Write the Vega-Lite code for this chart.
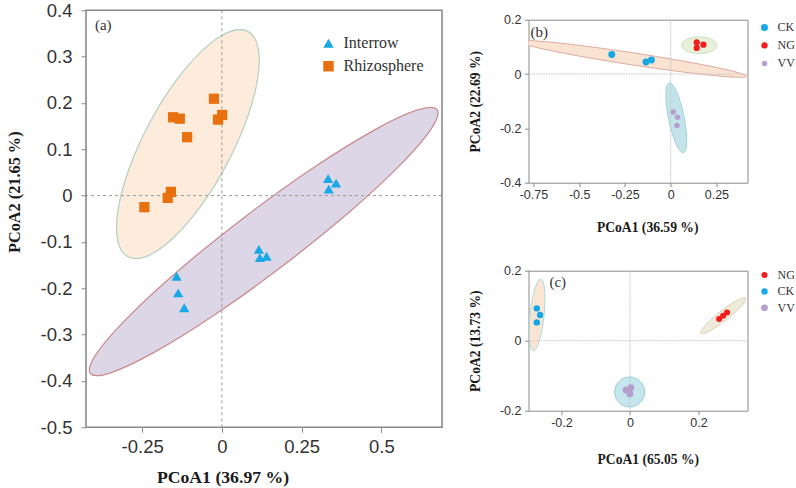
{
  "$schema": "https://vega.github.io/schema/vega-lite/v6.json",
  "background": "white",
  "padding": {"left": 5, "top": 0, "right": 0, "bottom": 0},
  "center": true,
  "spacing": 23.5,
  "resolve": {"scale": {"x": "independent", "y": "independent", "color": "independent", "shape": "independent", "size": "independent"}},
  "config": {
    "axis": {
      "domain": false, "grid": false, "tickColor": "#8a8a8a", "tickWidth": 1,
      "labelColor": "#333333", "labelFont": "Liberation Sans", "labelOverlap": false, "labelFlush": false,
      "titleFont": "Liberation Serif", "titleFontWeight": "bold", "titleColor": "#1a1a1a"
    },
    "legend": {"labelFont": "Liberation Serif", "labelColor": "#333333", "padding": 0}
  },
  "datasets": {
    "ptsA": [
      {"group": "Rhizosphere", "x": -0.025, "y": 0.209},
      {"group": "Rhizosphere", "x": 0.001, "y": 0.174},
      {"group": "Rhizosphere", "x": -0.012, "y": 0.164},
      {"group": "Rhizosphere", "x": -0.153, "y": 0.169},
      {"group": "Rhizosphere", "x": -0.132, "y": 0.166},
      {"group": "Rhizosphere", "x": -0.109, "y": 0.126},
      {"group": "Rhizosphere", "x": -0.160, "y": 0.008},
      {"group": "Rhizosphere", "x": -0.170, "y": -0.005},
      {"group": "Rhizosphere", "x": -0.243, "y": -0.025},
      {"group": "Interrow", "x": 0.333, "y": 0.037},
      {"group": "Interrow", "x": 0.358, "y": 0.027},
      {"group": "Interrow", "x": 0.335, "y": 0.014},
      {"group": "Interrow", "x": 0.116, "y": -0.116},
      {"group": "Interrow", "x": 0.119, "y": -0.134},
      {"group": "Interrow", "x": 0.140, "y": -0.131},
      {"group": "Interrow", "x": -0.142, "y": -0.174},
      {"group": "Interrow", "x": -0.137, "y": -0.210},
      {"group": "Interrow", "x": -0.118, "y": -0.242}
    ],
    "ellA": [
      {"g": "Rhizosphere", "i": 0, "x": 0.0815, "y": 0.3544},
      {"g": "Rhizosphere", "i": 1, "x": 0.0208, "y": 0.3529},
      {"g": "Rhizosphere", "i": 2, "x": -0.0593, "y": 0.3145},
      {"g": "Rhizosphere", "i": 3, "x": -0.1466, "y": 0.2452},
      {"g": "Rhizosphere", "i": 4, "x": -0.2277, "y": 0.1555},
      {"g": "Rhizosphere", "i": 5, "x": -0.2904, "y": 0.0590},
      {"g": "Rhizosphere", "i": 6, "x": -0.3251, "y": -0.0294},
      {"g": "Rhizosphere", "i": 7, "x": -0.3266, "y": -0.0965},
      {"g": "Rhizosphere", "i": 8, "x": -0.2945, "y": -0.1320},
      {"g": "Rhizosphere", "i": 9, "x": -0.2338, "y": -0.1305},
      {"g": "Rhizosphere", "i": 10, "x": -0.1537, "y": -0.0921},
      {"g": "Rhizosphere", "i": 11, "x": -0.0664, "y": -0.0228},
      {"g": "Rhizosphere", "i": 12, "x": 0.0147, "y": 0.0669},
      {"g": "Rhizosphere", "i": 13, "x": 0.0774, "y": 0.1634},
      {"g": "Rhizosphere", "i": 14, "x": 0.1121, "y": 0.2518},
      {"g": "Rhizosphere", "i": 15, "x": 0.1136, "y": 0.3189},
      {"g": "Interrow", "i": 0, "x": 0.6743, "y": 0.1856},
      {"g": "Interrow", "i": 1, "x": 0.6105, "y": 0.1842},
      {"g": "Interrow", "i": 2, "x": 0.4735, "y": 0.1398},
      {"g": "Interrow", "i": 3, "x": 0.2845, "y": 0.0590},
      {"g": "Interrow", "i": 4, "x": 0.0721, "y": -0.0460},
      {"g": "Interrow", "i": 5, "x": -0.1313, "y": -0.1590},
      {"g": "Interrow", "i": 6, "x": -0.2948, "y": -0.2629},
      {"g": "Interrow", "i": 7, "x": -0.3935, "y": -0.3418},
      {"g": "Interrow", "i": 8, "x": -0.4123, "y": -0.3838},
      {"g": "Interrow", "i": 9, "x": -0.3485, "y": -0.3824},
      {"g": "Interrow", "i": 10, "x": -0.2115, "y": -0.3380},
      {"g": "Interrow", "i": 11, "x": -0.0225, "y": -0.2572},
      {"g": "Interrow", "i": 12, "x": 0.1899, "y": -0.1522},
      {"g": "Interrow", "i": 13, "x": 0.3933, "y": -0.0392},
      {"g": "Interrow", "i": 14, "x": 0.5568, "y": 0.0647},
      {"g": "Interrow", "i": 15, "x": 0.6555, "y": 0.1436}
    ],
    "ptsB": [
      {"group": "CK", "x": -0.322, "y": 0.0716},
      {"group": "CK", "x": -0.135, "y": 0.0443},
      {"group": "CK", "x": -0.105, "y": 0.0517},
      {"group": "NG", "x": 0.1425, "y": 0.117},
      {"group": "NG", "x": 0.1425, "y": 0.096},
      {"group": "NG", "x": 0.179, "y": 0.108},
      {"group": "VV", "x": 0.0143, "y": -0.140},
      {"group": "VV", "x": 0.038, "y": -0.159},
      {"group": "VV", "x": 0.0345, "y": -0.189}
    ],
    "ellB": [
      {"g": "CK", "i": 0, "x": 0.4161, "y": -0.0084},
      {"g": "CK", "i": 1, "x": 0.3706, "y": 0.0049},
      {"g": "CK", "i": 2, "x": 0.2374, "y": 0.0259},
      {"g": "CK", "i": 3, "x": 0.0366, "y": 0.0514},
      {"g": "CK", "i": 4, "x": -0.2011, "y": 0.0776},
      {"g": "CK", "i": 5, "x": -0.4396, "y": 0.1004},
      {"g": "CK", "i": 6, "x": -0.6425, "y": 0.1165},
      {"g": "CK", "i": 7, "x": -0.7790, "y": 0.1233},
      {"g": "CK", "i": 8, "x": -0.8283, "y": 0.1198},
      {"g": "CK", "i": 9, "x": -0.7828, "y": 0.1065},
      {"g": "CK", "i": 10, "x": -0.6496, "y": 0.0855},
      {"g": "CK", "i": 11, "x": -0.4488, "y": 0.0600},
      {"g": "CK", "i": 12, "x": -0.2111, "y": 0.0338},
      {"g": "CK", "i": 13, "x": 0.0274, "y": 0.0110},
      {"g": "CK", "i": 14, "x": 0.2303, "y": -0.0051},
      {"g": "CK", "i": 15, "x": 0.3668, "y": -0.0119},
      {"g": "NG", "i": 0, "x": 0.2522, "y": 0.1059},
      {"g": "NG", "i": 1, "x": 0.2394, "y": 0.1212},
      {"g": "NG", "i": 2, "x": 0.2043, "y": 0.1324},
      {"g": "NG", "i": 3, "x": 0.1563, "y": 0.1365},
      {"g": "NG", "i": 4, "x": 0.1083, "y": 0.1324},
      {"g": "NG", "i": 5, "x": 0.0732, "y": 0.1212},
      {"g": "NG", "i": 6, "x": 0.0604, "y": 0.1059},
      {"g": "NG", "i": 7, "x": 0.0732, "y": 0.0906},
      {"g": "NG", "i": 8, "x": 0.1083, "y": 0.0794},
      {"g": "NG", "i": 9, "x": 0.1563, "y": 0.0753},
      {"g": "NG", "i": 10, "x": 0.2043, "y": 0.0794},
      {"g": "NG", "i": 11, "x": 0.2394, "y": 0.0906},
      {"g": "VV", "i": 0, "x": -0.0078, "y": -0.0325},
      {"g": "VV", "i": 1, "x": -0.0235, "y": -0.0526},
      {"g": "VV", "i": 2, "x": -0.0247, "y": -0.1016},
      {"g": "VV", "i": 3, "x": -0.0110, "y": -0.1666},
      {"g": "VV", "i": 4, "x": 0.0139, "y": -0.2300},
      {"g": "VV", "i": 5, "x": 0.0431, "y": -0.2750},
      {"g": "VV", "i": 6, "x": 0.0692, "y": -0.2893},
      {"g": "VV", "i": 7, "x": 0.0849, "y": -0.2692},
      {"g": "VV", "i": 8, "x": 0.0861, "y": -0.2202},
      {"g": "VV", "i": 9, "x": 0.0724, "y": -0.1552},
      {"g": "VV", "i": 10, "x": 0.0475, "y": -0.0918},
      {"g": "VV", "i": 11, "x": 0.0183, "y": -0.0468}
    ],
    "ptsC": [
      {"group": "NG", "x": 0.2601, "y": 0.0620},
      {"group": "NG", "x": 0.2718, "y": 0.0714},
      {"group": "NG", "x": 0.2834, "y": 0.0809},
      {"group": "CK", "x": -0.2718, "y": 0.0923},
      {"group": "CK", "x": -0.2622, "y": 0.0734},
      {"group": "CK", "x": -0.2718, "y": 0.0523},
      {"group": "VV", "x": -0.0117, "y": -0.1409},
      {"group": "VV", "x": 0.0029, "y": -0.1343},
      {"group": "VV", "x": 0.0, "y": -0.1523}
    ],
    "ellC": [
      {"g": "CK", "i": 0, "x": -0.2601, "y": 0.1760},
      {"g": "CK", "i": 1, "x": -0.2716, "y": 0.1633},
      {"g": "CK", "i": 2, "x": -0.2831, "y": 0.1267},
      {"g": "CK", "i": 3, "x": -0.2912, "y": 0.0758},
      {"g": "CK", "i": 4, "x": -0.2939, "y": 0.0243},
      {"g": "CK", "i": 5, "x": -0.2904, "y": -0.0139},
      {"g": "CK", "i": 6, "x": -0.2817, "y": -0.0286},
      {"g": "CK", "i": 7, "x": -0.2702, "y": -0.0159},
      {"g": "CK", "i": 8, "x": -0.2587, "y": 0.0207},
      {"g": "CK", "i": 9, "x": -0.2506, "y": 0.0716},
      {"g": "CK", "i": 10, "x": -0.2479, "y": 0.1231},
      {"g": "CK", "i": 11, "x": -0.2514, "y": 0.1613},
      {"g": "NG", "i": 0, "x": 0.3379, "y": 0.1219},
      {"g": "NG", "i": 1, "x": 0.3246, "y": 0.1207},
      {"g": "NG", "i": 2, "x": 0.2974, "y": 0.1064},
      {"g": "NG", "i": 3, "x": 0.2634, "y": 0.0826},
      {"g": "NG", "i": 4, "x": 0.2318, "y": 0.0558},
      {"g": "NG", "i": 5, "x": 0.2112, "y": 0.0333},
      {"g": "NG", "i": 6, "x": 0.2069, "y": 0.0209},
      {"g": "NG", "i": 7, "x": 0.2202, "y": 0.0221},
      {"g": "NG", "i": 8, "x": 0.2474, "y": 0.0364},
      {"g": "NG", "i": 9, "x": 0.2814, "y": 0.0602},
      {"g": "NG", "i": 10, "x": 0.3130, "y": 0.0870},
      {"g": "NG", "i": 11, "x": 0.3336, "y": 0.1095},
      {"g": "VV", "i": 0, "x": 0.0428, "y": -0.1466},
      {"g": "VV", "i": 1, "x": 0.0369, "y": -0.1252},
      {"g": "VV", "i": 2, "x": 0.0210, "y": -0.1094},
      {"g": "VV", "i": 3, "x": -0.0009, "y": -0.1037},
      {"g": "VV", "i": 4, "x": -0.0228, "y": -0.1094},
      {"g": "VV", "i": 5, "x": -0.0387, "y": -0.1252},
      {"g": "VV", "i": 6, "x": -0.0446, "y": -0.1466},
      {"g": "VV", "i": 7, "x": -0.0387, "y": -0.1680},
      {"g": "VV", "i": 8, "x": -0.0228, "y": -0.1838},
      {"g": "VV", "i": 9, "x": -0.0009, "y": -0.1895},
      {"g": "VV", "i": 10, "x": 0.0210, "y": -0.1838},
      {"g": "VV", "i": 11, "x": 0.0369, "y": -0.1680}
    ],
    "panelLabels": [
      {"panel": "a", "x": -0.398, "y": 0.369, "label": "(a)"},
      {"panel": "b", "x": -0.766, "y": 0.155, "label": "(b)"},
      {"panel": "c", "x": -0.235, "y": 0.169, "label": "(c)"}
    ]
  },
  "hconcat": [
    {
      "width": 356,
      "height": 417,
      "view": {"stroke": "#8a8a8a", "strokeWidth": 1.6},
      "layer": [
        {
          "data": {"name": "ellA"},
          "transform": [{"filter": "datum.g === 'Rhizosphere'"}],
          "mark": {"type": "line", "interpolate": "cardinal-closed", "fill": "#FDEBDB", "stroke": "#B7D2C0", "strokeWidth": 1.3, "clip": true},
          "encoding": {
            "x": {"field": "x", "type": "quantitative",
              "scale": {"domain": [-0.426, 0.69], "nice": false, "zero": false},
              "axis": {"title": "PCoA1 (36.97 %)", "values": [-0.25, 0, 0.25, 0.5],
                "labelExpr": "replace(format(datum.value, '~g'), '\u2212', '-')",
                "labelFontSize": 18.5, "tickSize": 5, "labelPadding": 5.5,
                "titleFontSize": 17.7, "titlePadding": 12, "titleX": 136.5}},
            "y": {"field": "y", "type": "quantitative",
              "scale": {"domain": [-0.5, 0.4], "nice": false, "zero": false},
              "axis": {"title": "PCoA2 (21.65 %)", "values": [-0.5, -0.4, -0.3, -0.2, -0.1, 0, 0.1, 0.2, 0.3, 0.4],
                "labelExpr": "replace(format(datum.value, '~g'), '\u2212', '-')",
                "labelFontSize": 18.5, "tickSize": 5, "labelPadding": 9,
                "titleFontSize": 16.3, "titlePadding": 18, "titleY": 181.5}},
            "order": {"field": "i", "type": "quantitative"}
          }
        },
        {
          "data": {"name": "ellA"},
          "transform": [{"filter": "datum.g === 'Interrow'"}],
          "mark": {"type": "line", "interpolate": "cardinal-closed", "fill": "#DDD6E7", "stroke": "#C98C8E", "strokeWidth": 1.3, "clip": true},
          "encoding": {
            "x": {"field": "x", "type": "quantitative"},
            "y": {"field": "y", "type": "quantitative"},
            "order": {"field": "i", "type": "quantitative"}
          }
        },
        {
          "data": {"values": [{}]},
          "mark": {"type": "rule", "color": "#9a9a9a", "strokeDash": [3, 3], "strokeWidth": 1},
          "encoding": {"x": {"datum": 0, "type": "quantitative"}}
        },
        {
          "data": {"values": [{}]},
          "mark": {"type": "rule", "color": "#9a9a9a", "strokeDash": [3, 3], "strokeWidth": 1},
          "encoding": {"y": {"datum": 0, "type": "quantitative"}}
        },
        {
          "data": {"name": "ptsA"},
          "mark": {"type": "point", "filled": true, "opacity": 1, "size": 105, "strokeWidth": 0},
          "encoding": {
            "x": {"field": "x", "type": "quantitative"},
            "y": {"field": "y", "type": "quantitative"},
            "shape": {"field": "group", "type": "nominal",
              "scale": {"domain": ["Interrow", "Rhizosphere"], "range": ["triangle-up", "square"]},
              "legend": {"title": null, "orient": "none", "legendX": 234.5, "legendY": 25, "padding": 0, "labelFontSize": 16, "symbolSize": 110, "rowPadding": 7, "labelOffset": 7, "symbolStrokeWidth": 0}},
            "color": {"field": "group", "type": "nominal",
              "scale": {"domain": ["Interrow", "Rhizosphere"], "range": ["#18A9E6", "#E8700F"]},
              "legend": {"title": null, "orient": "none", "legendX": 234.5, "legendY": 25, "padding": 0, "labelFontSize": 16, "symbolSize": 110, "rowPadding": 7, "labelOffset": 7, "symbolStrokeWidth": 0}}
          }
        },
        {
          "data": {"name": "panelLabels"},
          "transform": [{"filter": "datum.panel === 'a'"}],
          "mark": {"type": "text", "align": "left", "baseline": "middle", "font": "Liberation Serif", "fontSize": 15, "color": "#333333"},
          "encoding": {
            "x": {"field": "x", "type": "quantitative"},
            "y": {"field": "y", "type": "quantitative"},
            "text": {"field": "label"}
          }
        }
      ]
    },
    {
      "spacing": 29,
      "resolve": {"scale": {"x": "independent", "y": "independent", "color": "independent", "size": "independent"}},
      "vconcat": [
        {
          "width": 219,
          "height": 163,
          "view": {"stroke": "#8a8a8a", "strokeWidth": 1},
          "layer": [
            {
              "data": {"name": "ellB"},
              "transform": [{"filter": "datum.g === 'CK'"}],
              "mark": {"type": "line", "interpolate": "cardinal-closed", "fill": "#FBE3D1", "stroke": "#DDA9A2", "strokeWidth": 1, "clip": true},
              "encoding": {
                "x": {"field": "x", "type": "quantitative",
                  "scale": {"domain": [-0.777, 0.42], "nice": false, "zero": false},
                  "axis": {"title": "PCoA1 (36.59 %)", "values": [-0.75, -0.5, -0.25, 0, 0.25],
                    "labelExpr": "replace(format(datum.value, '~g'), '\u2212', '-')",
                    "labelFontSize": 12.5, "tickSize": 4, "labelPadding": 1.5,
                    "titleFontSize": 13.6, "titlePadding": 19.5, "titleX": 118.7}},
                "y": {"field": "y", "type": "quantitative",
                  "scale": {"domain": [-0.4, 0.2], "nice": false, "zero": false},
                  "axis": {"title": "PCoA2 (22.69 %)", "values": [-0.4, -0.3, -0.2, -0.1, 0, 0.1, 0.2],
                    "labelExpr": "replace(format(datum.value, '~g'), '\u2212', '-')",
                    "labelFontSize": 12.5, "tickSize": 4, "labelPadding": 3.5,
                    "titleFontSize": 13.6, "titlePadding": 16.5}},
                "order": {"field": "i", "type": "quantitative"}
              }
            },
            {
              "data": {"name": "ellB"},
              "transform": [{"filter": "datum.g === 'NG'"}],
              "mark": {"type": "line", "interpolate": "cardinal-closed", "fill": "#E8F0DC", "stroke": "#CCE0BC", "strokeWidth": 1, "clip": true},
              "encoding": {
                "x": {"field": "x", "type": "quantitative"},
                "y": {"field": "y", "type": "quantitative"},
                "order": {"field": "i", "type": "quantitative"}
              }
            },
            {
              "data": {"name": "ellB"},
              "transform": [{"filter": "datum.g === 'VV'"}],
              "mark": {"type": "line", "interpolate": "cardinal-closed", "fill": "#C2E4EA", "stroke": "#9ED2DA", "strokeWidth": 1, "clip": true},
              "encoding": {
                "x": {"field": "x", "type": "quantitative"},
                "y": {"field": "y", "type": "quantitative"},
                "order": {"field": "i", "type": "quantitative"}
              }
            },
            {
              "data": {"values": [{}]},
              "mark": {"type": "rule", "color": "#c4c4c4", "strokeDash": [1.5, 1], "strokeWidth": 1},
              "encoding": {"x": {"datum": 0, "type": "quantitative"}}
            },
            {
              "data": {"values": [{}]},
              "mark": {"type": "rule", "color": "#c4c4c4", "strokeDash": [1.5, 1], "strokeWidth": 1},
              "encoding": {"y": {"datum": 0, "type": "quantitative"}}
            },
            {
              "data": {"name": "ptsB"},
              "mark": {"type": "circle", "opacity": 1},
              "encoding": {
                "x": {"field": "x", "type": "quantitative"},
                "y": {"field": "y", "type": "quantitative"},
                "size": {"field": "group", "type": "nominal", "scale": {"domain": ["CK", "NG", "VV"], "range": [48, 30, 30]}, "legend": null},
                "color": {"field": "group", "type": "nominal",
                  "scale": {"domain": ["CK", "NG", "VV"], "range": ["#14A8E7", "#F51B1B", "#B49FCF"]},
                  "legend": {"title": null, "orient": "none", "legendX": 230, "legendY": 1.75, "padding": 0, "labelFontSize": 12, "symbolType": "circle", "symbolSize": 40, "rowPadding": 6, "labelOffset": 7, "symbolStrokeWidth": 0}}
              }
            },
            {
              "data": {"name": "panelLabels"},
              "transform": [{"filter": "datum.panel === 'b'"}],
              "mark": {"type": "text", "align": "left", "baseline": "middle", "font": "Liberation Serif", "fontSize": 15, "color": "#333333"},
              "encoding": {
                "x": {"field": "x", "type": "quantitative"},
                "y": {"field": "y", "type": "quantitative"},
                "text": {"field": "label"}
              }
            }
          ]
        },
        {
          "width": 219,
          "height": 140,
          "view": {"stroke": "#8a8a8a", "strokeWidth": 1},
          "layer": [
            {
              "data": {"name": "ellC"},
              "transform": [{"filter": "datum.g === 'CK'"}],
              "mark": {"type": "line", "interpolate": "cardinal-closed", "fill": "#FAE5D3", "stroke": "#A9DBE6", "strokeWidth": 1, "clip": true},
              "encoding": {
                "x": {"field": "x", "type": "quantitative",
                  "scale": {"domain": [-0.296, 0.343], "nice": false, "zero": false},
                  "axis": {"title": ["PCoA1 (65.05 %)", ""], "titleLineHeight": 11, "values": [-0.2, 0, 0.2],
                    "labelExpr": "replace(format(datum.value, '~g'), '\u2212', '-')",
                    "labelFontSize": 12.5, "tickSize": 4, "labelPadding": 1.5,
                    "titleFontSize": 13.6, "titlePadding": 23.5, "titleX": 119.3}},
                "y": {"field": "y", "type": "quantitative",
                  "scale": {"domain": [-0.2, 0.2], "nice": false, "zero": false},
                  "axis": {"title": "PCoA2 (13.73 %)", "values": [-0.2, -0.1, 0, 0.1, 0.2],
                    "labelExpr": "replace(format(datum.value, '~g'), '\u2212', '-')",
                    "labelFontSize": 12.5, "tickSize": 4, "labelPadding": 3.5,
                    "titleFontSize": 13.6, "titlePadding": 16.5}},
                "order": {"field": "i", "type": "quantitative"}
              }
            },
            {
              "data": {"name": "ellC"},
              "transform": [{"filter": "datum.g === 'NG'"}],
              "mark": {"type": "line", "interpolate": "cardinal-closed", "fill": "#EEEBDA", "stroke": "#D6D0B3", "strokeWidth": 1, "clip": true},
              "encoding": {
                "x": {"field": "x", "type": "quantitative"},
                "y": {"field": "y", "type": "quantitative"},
                "order": {"field": "i", "type": "quantitative"}
              }
            },
            {
              "data": {"name": "ellC"},
              "transform": [{"filter": "datum.g === 'VV'"}],
              "mark": {"type": "line", "interpolate": "cardinal-closed", "fill": "#C5E6EC", "stroke": "#98CFD9", "strokeWidth": 1, "clip": true},
              "encoding": {
                "x": {"field": "x", "type": "quantitative"},
                "y": {"field": "y", "type": "quantitative"},
                "order": {"field": "i", "type": "quantitative"}
              }
            },
            {
              "data": {"values": [{}]},
              "mark": {"type": "rule", "color": "#c4c4c4", "strokeDash": [1.5, 1], "strokeWidth": 1},
              "encoding": {"x": {"datum": 0, "type": "quantitative"}}
            },
            {
              "data": {"values": [{}]},
              "mark": {"type": "rule", "color": "#c4c4c4", "strokeDash": [1.5, 1], "strokeWidth": 1},
              "encoding": {"y": {"datum": 0, "type": "quantitative"}}
            },
            {
              "data": {"name": "ptsC"},
              "mark": {"type": "circle", "opacity": 1},
              "encoding": {
                "x": {"field": "x", "type": "quantitative"},
                "y": {"field": "y", "type": "quantitative"},
                "size": {"field": "group", "type": "nominal", "scale": {"domain": ["NG", "CK", "VV"], "range": [36, 46, 30]}, "legend": null},
                "color": {"field": "group", "type": "nominal",
                  "scale": {"domain": ["NG", "CK", "VV"], "range": ["#F51B1B", "#14A8E7", "#B49FCF"]},
                  "legend": {"title": null, "orient": "none", "legendX": 230, "legendY": -1.7, "padding": 0, "labelFontSize": 12, "symbolType": "circle", "symbolSize": 40, "rowPadding": 4.4, "labelOffset": 7, "symbolStrokeWidth": 0}}
              }
            },
            {
              "data": {"name": "panelLabels"},
              "transform": [{"filter": "datum.panel === 'c'"}],
              "mark": {"type": "text", "align": "left", "baseline": "middle", "font": "Liberation Serif", "fontSize": 15, "color": "#333333"},
              "encoding": {
                "x": {"field": "x", "type": "quantitative"},
                "y": {"field": "y", "type": "quantitative"},
                "text": {"field": "label"}
              }
            }
          ]
        }
      ]
    }
  ]
}
